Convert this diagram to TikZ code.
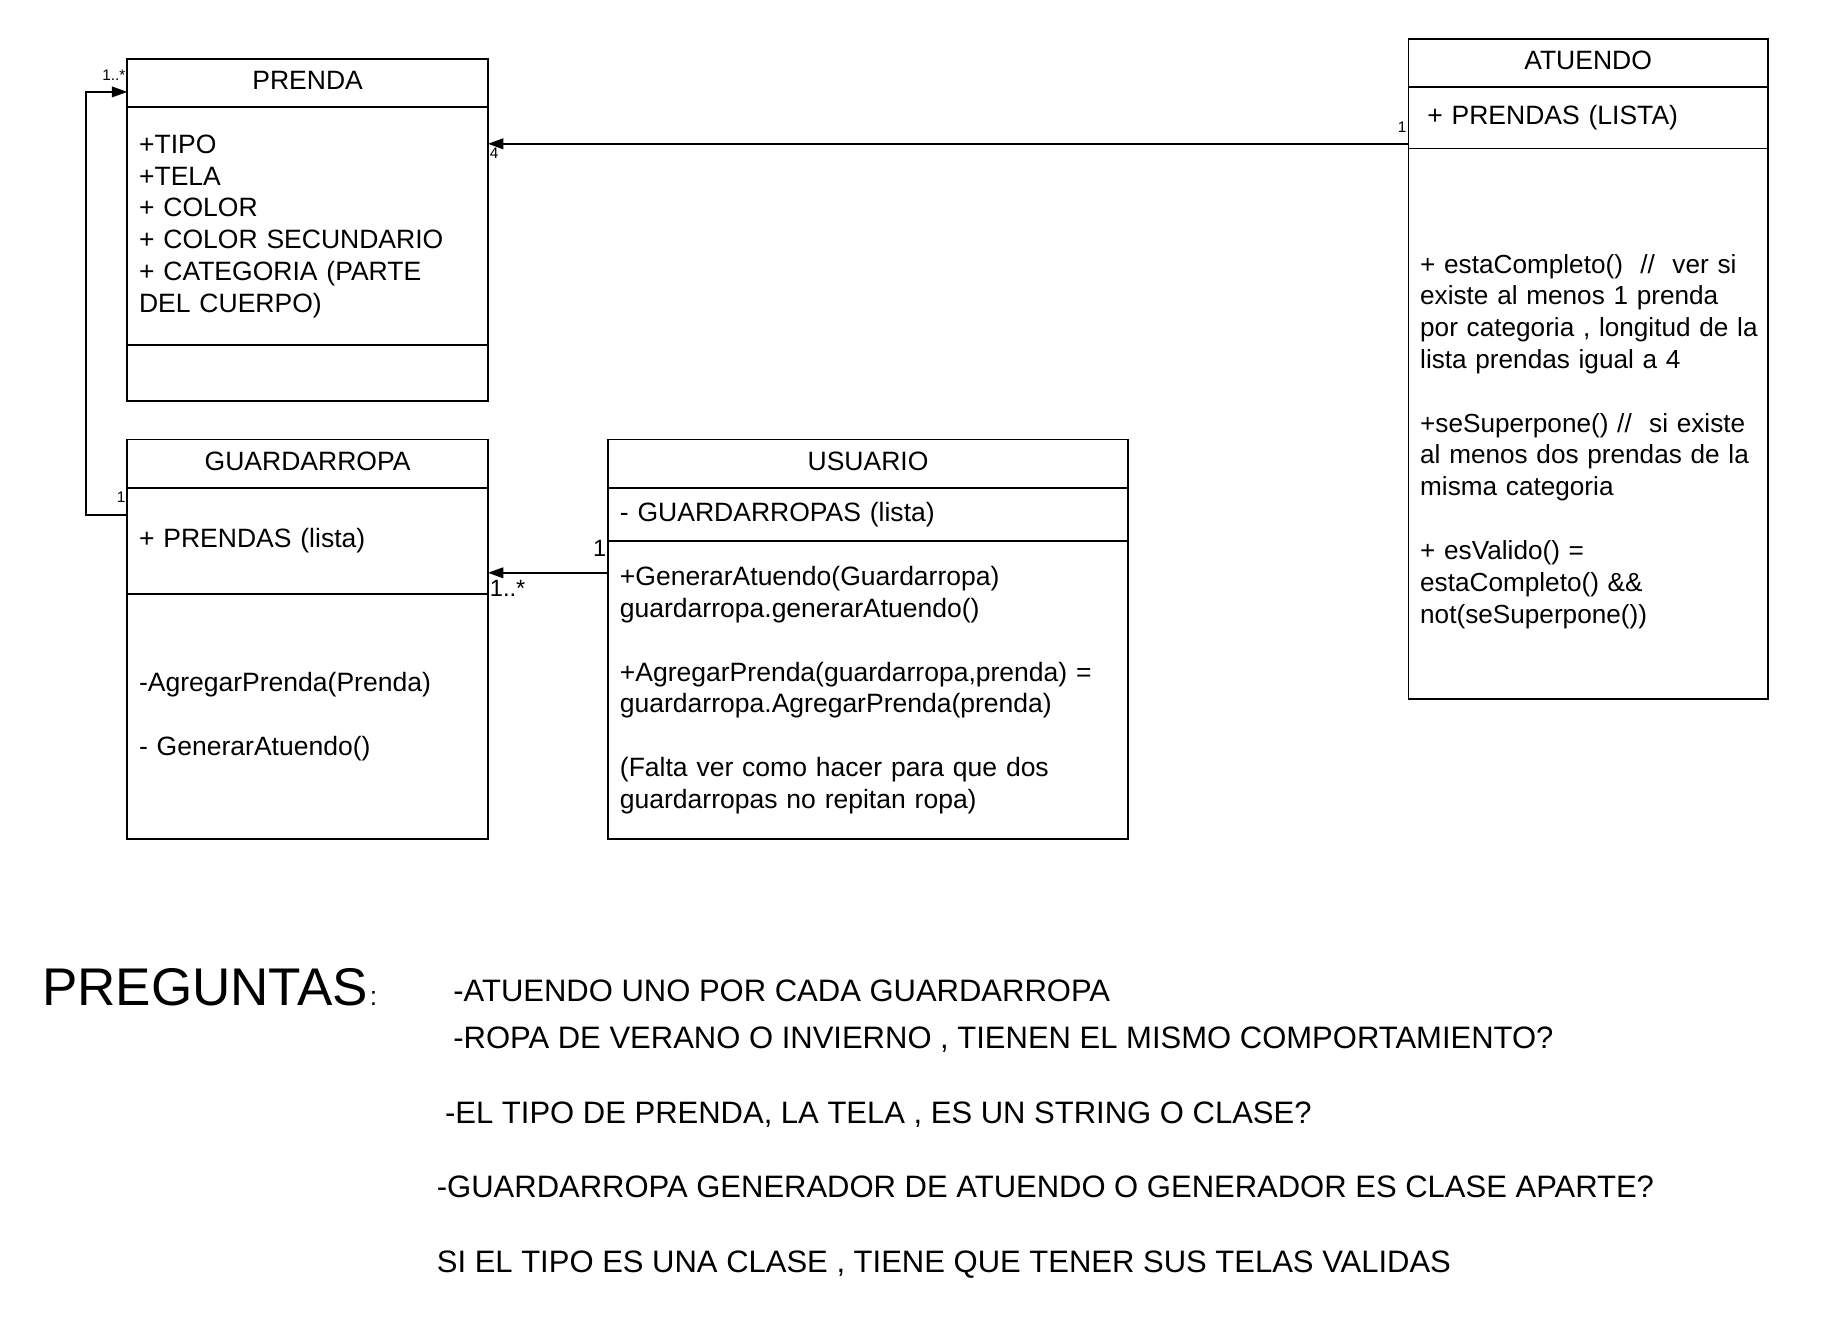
\documentclass[tikz,border=0pt]{standalone}
\usepackage{fontspec}
\setmainfont{Liberation Sans}
\usepackage{tikz}
\usetikzlibrary{arrows.meta,positioning}

\begin{document}
\begin{tikzpicture}[x=1pt,y=-1pt,->,>={Triangle[length=13pt,width=9pt]},line width=1.4pt,node distance=0pt]
        \tikzstyle{every node}=[font=\fontsize{22.5}{27}\selectfont]
        \tikzstyle{box}=[draw=black,-,outer sep=0pt,inner xsep=10pt,inner ysep=0pt,align=left]
        \tikzstyle{head}=[box,align=center,text depth=4pt]
        \tikzstyle{mult}=[font=\fontsize{13}{15}\selectfont,inner sep=1pt]
        \tikzstyle{multbig}=[font=\fontsize{20}{24}\selectfont,inner sep=1pt]
        \tikzstyle{quest}=[font=\fontsize{26.3}{31}\selectfont,inner sep=0pt,anchor=base west]
        \useasboundingbox (0,0) rectangle (1568,1137);
        % PRENDA
        \node[head,minimum width=306pt,minimum height=41pt,anchor=north west] (phead) at (108,50) {PRENDA};
        \node[box,minimum width=306pt,text width=286pt,minimum height=202pt,below=of phead] (pattr) {+TIPO\\+TELA\\+ COLOR\\+ COLOR SECUNDARIO\\+ CATEGORIA (PARTE\\DEL CUERPO)};
        \node[box,minimum width=306pt,minimum height=47pt,below=of pattr] (pops) {};
        % GUARDARROPA
        \node[head,minimum width=306pt,minimum height=41pt,below=33pt of pops] (ghead) {GUARDARROPA};
        \node[box,minimum width=306pt,text width=286pt,minimum height=90pt,below=of ghead] (gattr) {+ PRENDAS (lista)};
        \node[box,minimum width=306pt,text width=286pt,minimum height=208pt,below=of gattr] (gops) {-AgregarPrenda(Prenda)\\[27pt]- GenerarAtuendo()};
        % USUARIO
        \node[head,minimum width=441pt,minimum height=41pt,right=102pt of ghead] (uhead) {USUARIO};
        \node[box,minimum width=441pt,text width=421pt,minimum height=45pt,below=of uhead] (uattr) {- GUARDARROPAS (lista)};
        \node[box,minimum width=441pt,text width=421pt,minimum height=253pt,below=of uattr] (uops) {+GenerarAtuendo(Guardarropa)\\guardarropa.generarAtuendo()\\[27pt]+AgregarPrenda(guardarropa,prenda) =\\guardarropa.AgregarPrenda(prenda)\\[27pt](Falta ver como hacer para que dos\\guardarropas no repitan ropa)};
        % ATUENDO
        \node[head,minimum width=305pt,minimum height=41pt,anchor=north west] (ahead) at (1195,33) {ATUENDO};
        \node[box,minimum width=305pt,inner xsep=16pt,text width=273pt,minimum height=52pt,below=of ahead] (aattr) {+ PRENDAS (LISTA)};
        \node[box,minimum width=305pt,text width=285pt,minimum height=467pt,below=of aattr,font=\fontsize{22.2}{27}\selectfont] (aops) {\mbox{\strut}\\+ estaCompleto()\ \ //\ \ ver si\\existe al menos 1 prenda\\\mbox{por categoria , longitud de la}\\lista prendas igual a 4\\[27pt]+seSuperpone() //\ \ si existe\\al menos dos prendas de la\\misma categoria\\[27pt]+ esValido() =\\estaCompleto() \&\&\\not(seSuperpone())};
    \draw
        ([yshift=-23pt]gattr.north west) node[mult,anchor=south east,yshift=9pt]{1} -- ++(-35,0) |- ([yshift=-28pt]phead.north west) node[mult,anchor=south east,yshift=8pt]{1..*};
    \draw
        ([yshift=4pt]aattr.south west) node[mult,anchor=south east,yshift=8pt]{1} -- ([yshift=4pt]aattr.south west -| pattr.east) node[mult,anchor=north west,yshift=-2pt]{4};
    \draw
        ([yshift=-27pt]uops.north west) node[multbig,anchor=south east,yshift=12pt]{1} -- ([yshift=-27pt]uops.north west -| gattr.east) node[multbig,anchor=north west,yshift=-5pt]{1..*};
        % PREGUNTAS
        \node[font=\fontsize{45}{54}\selectfont,inner sep=0pt,anchor=base west] (preg) at (35,853) {PREGUNTAS};
        \node[inner sep=0pt,anchor=base west] (colon) at (preg.base east) {:};
        \node[quest] (q1) at (384,850) {-ATUENDO UNO POR CADA GUARDARROPA};
        \node[quest] (q2) at (384,890) {-ROPA DE VERANO O INVIERNO , TIENEN EL MISMO COMPORTAMIENTO?};
        \node[quest] (q3) at (377,953) {-EL TIPO DE PRENDA, LA TELA , ES UN STRING O CLASE?};
        \node[quest] (q4) at (370,1016) {-GUARDARROPA GENERADOR DE ATUENDO O GENERADOR ES CLASE APARTE?};
        \node[quest] (q5) at (370,1080) {SI EL TIPO ES UNA CLASE , TIENE QUE TENER SUS TELAS VALIDAS};
    \end{tikzpicture}
\end{document}
